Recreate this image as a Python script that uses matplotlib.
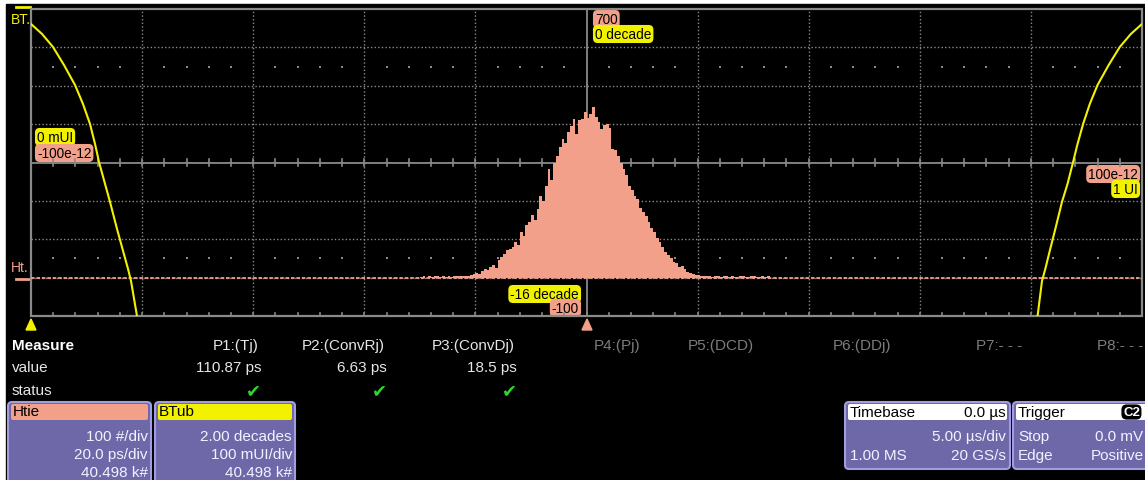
import numpy as np
import matplotlib
matplotlib.use('Agg')
import matplotlib.pyplot as plt
from matplotlib.patches import FancyBboxPatch, Rectangle, Polygon

plt.rcParams['font.family'] = ['Liberation Sans', 'DejaVu Sans']

W, H, DPI = 1145, 481, 100

# ---------------- data ----------------
# time-interval-error histogram (Htie): counts per 0.5 ps bin starting at -30 ps
hist_start_ps = -30.0
hist_bin_ps = 0.5
hist_counts = [
    2, 3, 0, 3, 2, 3, 4, 2, 3, 2, 3, 2, 3, 3, 4, 3, 4, 5,
    7, 9, 12, 10, 18, 23, 20, 27, 32, 26, 45, 54, 62, 71,
    74, 80, 93, 84, 119, 108, 138, 145, 162, 150, 180, 214,
    200, 240, 284, 255, 300, 318, 340, 362, 350, 379, 396, 414,
    375, 410, 414, 431, 415, 427, 445, 418, 405, 388, 397, 401,
    390, 336, 332, 318, 300, 284, 268, 240, 228, 214, 206, 182,
    171, 160, 145, 130, 119, 104, 93, 80, 68, 58, 52, 41,
    38, 28, 30, 22, 15, 12, 10, 8, 8, 5, 4, 3, 3, 2, 3, 4,
    2, 3, 3, 2, 3, 2, 2, 3, 3, 2, 2, 3, 3, 2, 2, 3, 2, 3,
]
hist_x_range = (-100, 100)    # ps  (20 ps/div)
hist_y_range = (-100, 700)    # counts (100 #/div)

# bathtub curve (BTub): UI vs. log10(BER) decades
bt_left_ui = [0.000, 0.0099, 0.0198, 0.0297, 0.0396, 0.0468, 0.0531, 0.0576,
              0.0612, 0.0666, 0.0711, 0.0774, 0.0828, 0.0873, 0.0900, 0.0954]
bt_left_dec = [-0.78, -1.30, -1.98, -2.92, -3.96, -4.95, -5.99, -7.03,
               -7.97, -9.11, -10.05, -11.46, -12.60, -13.54, -14.17, -16.0]
bt_right_ui = [0.9060, 0.9100, 0.9130, 0.9170, 0.9220, 0.9280, 0.9330, 0.9380,
               0.9420, 0.9470, 0.9530, 0.9600, 0.9700, 0.9800, 0.9900, 1.0000]
bt_right_dec = [-16.0, -14.17, -13.54, -12.60, -11.46, -10.05, -9.11, -7.97,
                -7.03, -5.99, -4.95, -3.96, -2.92, -1.98, -1.30, -0.78]
bt_x_range = (0.0, 1.0)
bt_y_range = (-16.0, 0.0)

measure_headers = ['P1:(Tj)', 'P2:(ConvRj)', 'P3:(ConvDj)', 'P4:(Pj)', 'P5:(DCD)',
                   'P6:(DDj)', 'P7:- - -', 'P8:- - -']
measure_values = ['110.87 ps', '6.63 ps', '18.5 ps', '', '', '', '', '']
measure_ok = [True, True, True, False, False, False, False, False]

# ---------------- styling ----------------
SALMON = '#F2A08A'
YELLOW = '#F2F200'
GRID = '#8a8a8a'
PURPLE = '#6F68A8'
PURPLE_EDGE = '#A29CE0'
PANEL_TXT = '#F2F2FF'
FS = 11

fig = plt.figure(figsize=(W / DPI, H / DPI), dpi=DPI, facecolor='white')

screen = fig.add_axes([0, 0, 1, 1])
screen.set_xlim(0, W)
screen.set_ylim(H, 0)
screen.axis('off')
screen.add_patch(Rectangle((6, 5), W, H, color='black', zorder=0))


def px_rect(x0, y0, x1, y1):
    return [x0 / W, 1 - y1 / H, (x1 - x0) / W, (y1 - y0) / H]


GX0, GY0, GX1, GY1 = 31, 10, 1142, 317
rect = px_rect(GX0, GY0, GX1, GY1)

# ---- grid axes (divisions) ----
ax_g = fig.add_axes(rect)
ax_g.set_xlim(0, 10)
ax_g.set_ylim(0, 8)
ax_g.axis('off')
ax_g.patch.set_alpha(0)
for i in range(1, 10):
    if i != 5:
        ax_g.axvline(i, color=GRID, lw=1.0, ls=(0, (1, 1.6)))
for j in range(1, 8):
    if j != 4:
        ax_g.axhline(j, color=GRID, lw=1.0, ls=(0, (1, 1.6)))
ax_g.axvline(5, color=GRID, lw=1.3)
ax_g.axhline(4, color=GRID, lw=1.3)
ax_g.add_patch(Rectangle((0, 0), 10, 8, fill=False, ec=GRID, lw=1.6, clip_on=False))
minor = np.arange(0, 10.001, 0.2)
for k in minor:
    ax_g.plot([k, k], [3.92, 4.08], color=GRID, lw=1.2)
    ax_g.plot([k, k], [0, 0.09], color=GRID, lw=1.2)
dots_x = [k for k in minor if abs(k - round(k)) > 1e-6]
for yy in (1.5, 6.5):
    ax_g.scatter(dots_x, [yy] * len(dots_x), s=1.2, color=GRID, marker='s', lw=0)

# ---- histogram axes ----
ax_h = fig.add_axes(rect)
ax_h.set_xlim(*hist_x_range)
ax_h.set_ylim(*hist_y_range)
ax_h.axis('off')
ax_h.patch.set_alpha(0)
edges = hist_start_ps + hist_bin_ps * np.arange(len(hist_counts) + 1)
ax_h.stairs(hist_counts, edges, fill=True, color=SALMON, baseline=0)
ax_h.axhline(0, color=SALMON, lw=1.3, ls=(0, (2, 1)))

# ---- bathtub axes ----
ax_b = fig.add_axes(rect)
ax_b.set_xlim(*bt_x_range)
ax_b.set_ylim(*bt_y_range)
ax_b.axis('off')
ax_b.patch.set_alpha(0)
ax_b.plot(bt_left_ui, bt_left_dec, color=YELLOW, lw=1.5)
ax_b.plot(bt_right_ui, bt_right_dec, color=YELLOW, lw=1.5)


# ---- labels on the grid ----
def tag(x, y, s, fc, ha='left', fs=9.8):
    screen.text(x, y, s, ha=ha, va='center', fontsize=fs, color='black',
                bbox=dict(boxstyle='round,pad=0.15,rounding_size=0.35', fc=fc, ec='none'))


tag(595, 20, '700', SALMON)
tag(595, 35, '0 decade', YELLOW)
tag(37, 138, '0 mUI', YELLOW)
tag(37, 154, '-100e-12', SALMON)
tag(579, 295, '-16 decade', YELLOW, ha='right')
tag(579, 309, '-100', SALMON, ha='right')
tag(1138, 175, '100e-12', SALMON, ha='right')
tag(1138, 190, '1 UI', YELLOW, ha='right')

screen.text(11, 20, 'BT.', color=YELLOW, fontsize=10, va='center', ha='left')
screen.plot([16, 30], [8, 8], color=YELLOW, lw=2)
screen.text(11, 268, 'Ht.', color=SALMON, fontsize=10, va='center', ha='left')
screen.plot([16, 30], [280, 280], color=SALMON, lw=2)

screen.add_patch(Polygon([(26, 331), (36, 331), (31, 320)], color=YELLOW))
screen.add_patch(Polygon([(582, 331), (592, 331), (587, 320)], color=SALMON))

# ---- measure table ----
screen.text(12, 346, 'Measure', color='white', fontsize=FS, fontweight='bold', va='center')
screen.text(12, 368, 'value', color='#E6E6E6', fontsize=FS, va='center')
screen.text(12, 391, 'status', color='#E6E6E6', fontsize=FS, va='center')
col_right = [259, 385, 515, 640, 754, 891, 1022, 1143]
for cx, hd, val, ok in zip(col_right, measure_headers, measure_values, measure_ok):
    c = '#E6E6E6' if ok else '#7c7c7c'
    screen.text(cx, 346, hd, color=c, fontsize=FS, va='center', ha='right')
    if val:
        screen.text(cx + 2, 368, val, color='#E6E6E6', fontsize=FS, va='center', ha='right')
    if ok:
        screen.text(cx - 6, 391, '\u2714', color='#2FD62F', fontsize=13, va='center',
                    ha='center', family='DejaVu Sans')


# ---- bottom panels ----
def panel(x0, x1, y0, y1, hdr_fc):
    screen.add_patch(FancyBboxPatch((x0, y0), x1 - x0, y1 - y0,
                                    boxstyle='round,pad=0,rounding_size=4',
                                    fc=PURPLE, ec=PURPLE_EDGE, lw=1.5))
    screen.add_patch(FancyBboxPatch((x0 + 3, y0 + 2), x1 - x0 - 6, 16,
                                    boxstyle='round,pad=0,rounding_size=2',
                                    fc=hdr_fc, ec='none'))


panel(8, 151, 403, 495, SALMON)
screen.text(13, 412, 'Htie', color='black', fontsize=FS, va='center')
for yy, s in zip((437, 455, 473), ('100 #/div', '20.0 ps/div', '40.498 k#')):
    screen.text(148, yy, s, color=PANEL_TXT, fontsize=FS, va='center', ha='right')

panel(155, 295, 403, 495, YELLOW)
screen.text(159, 412, 'BTub', color='black', fontsize=FS, va='center')
for yy, s in zip((437, 455, 473), ('2.00 decades', '100 mUI/div', '40.498 k#')):
    screen.text(292, yy, s, color=PANEL_TXT, fontsize=FS, va='center', ha='right')

panel(845, 1010, 403, 470, 'white')
screen.text(850, 413, 'Timebase', color='black', fontsize=FS, va='center')
screen.text(1006, 413, '0.0 \u00b5s', color='black', fontsize=FS, va='center', ha='right')
screen.text(1006, 437, '5.00 \u00b5s/div', color=PANEL_TXT, fontsize=FS, va='center', ha='right')
screen.text(850, 456, '1.00 MS', color=PANEL_TXT, fontsize=FS, va='center')
screen.text(1006, 456, '20 GS/s', color=PANEL_TXT, fontsize=FS, va='center', ha='right')

panel(1013, 1160, 403, 470, 'white')
screen.text(1018, 413, 'Trigger', color='black', fontsize=FS, va='center')
screen.text(1123, 413, 'C2', color='white', fontsize=9.5, fontweight='bold', va='center',
            bbox=dict(boxstyle='round,pad=0.12,rounding_size=0.4', fc='black', ec='none'))
screen.text(1018, 437, 'Stop', color=PANEL_TXT, fontsize=FS, va='center')
screen.text(1143, 437, '0.0 mV', color=PANEL_TXT, fontsize=FS, va='center', ha='right')
screen.text(1018, 456, 'Edge', color=PANEL_TXT, fontsize=FS, va='center')
screen.text(1144, 456, 'Positive', color=PANEL_TXT, fontsize=FS, va='center', ha='right')

fig.savefig('out.png', dpi=DPI, facecolor='white')
